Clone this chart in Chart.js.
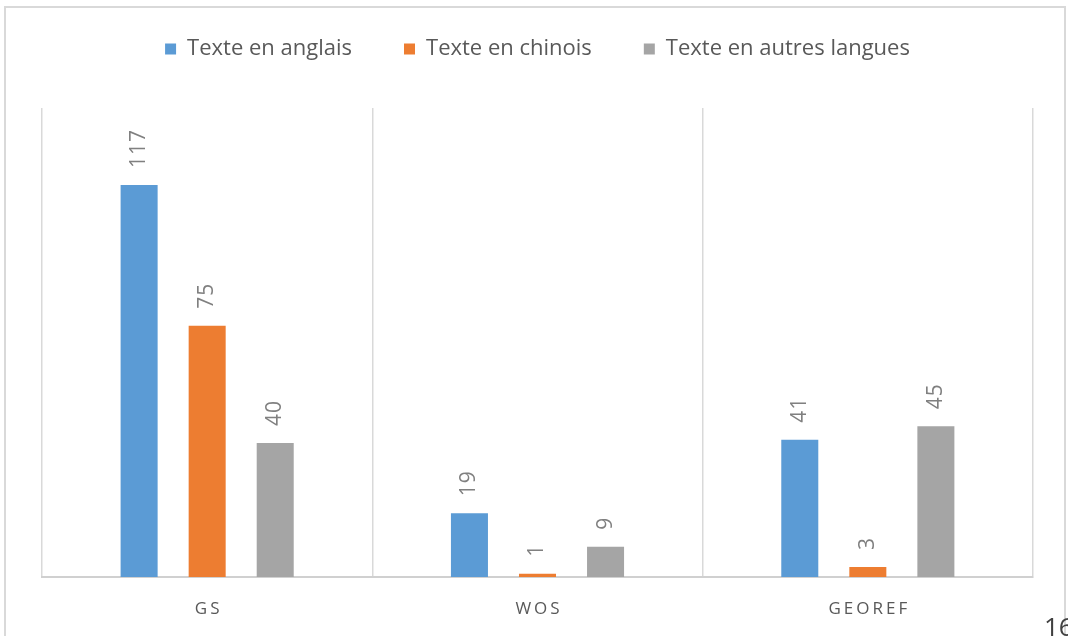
<!DOCTYPE html>
<html>
<head>
  <meta charset="UTF-8" />
  <title>Textes par base de données</title>
  <script src="https://cdn.jsdelivr.net/npm/chart.js@4"></script>
  <style>
    *{box-sizing:border-box}
    html,body{margin:0;width:1068px;height:636px;overflow:hidden;background:#fff;font-family:'Open Sans',sans-serif;}
    .wrap{position:absolute;left:0;top:0;width:1068px;height:636px;}
    .frame{position:absolute;left:4px;top:6px;width:1062px;height:700px;border:2px solid #d9d9d9;pointer-events:none;}
    .page{position:absolute;left:1044px;top:608px;font-size:26px;color:#404040;}
  </style>
</head>
<body>
  <div class="frame"></div>
  <div class="wrap"><canvas id="chart"></canvas></div>
  <div class="page">16</div>
  <script>
    // données
    const categories = ["GS", "WOS", "GEOREF"];
    const seriesNames = ["Texte en anglais", "Texte en chinois", "Texte en autres langues"];
    const anglais = [117, 19, 41];
    const chinois = [75, 1, 3];
    const autres = [40, 9, 45];
    const colors = ["#5b9bd5", "#ed7d31", "#a5a5a5"];
    const yMax = 140;

    /* étiquettes de valeur, tournées à -90° au-dessus des barres */
    const valueLabels = {
      id: "valueLabels",
      afterDatasetsDraw(chart) {
        const ctx = chart.ctx;
        ctx.save();
        ctx.font = '21px "Open Sans"';
        ctx.fillStyle = "#808080";
        ctx.letterSpacing = "1px";
        ctx.textAlign = "left";
        ctx.textBaseline = "middle";
        chart.data.datasets.forEach((ds, i) => {
          chart.getDatasetMeta(i).data.forEach((bar, j) => {
            ctx.save();
            ctx.translate(bar.x, bar.y - 17);
            ctx.rotate(-Math.PI / 2);
            ctx.fillText(String(ds.data[j]), 0, 0);
            ctx.restore();
          });
        });
        ctx.restore();
      }
    };

    /* libellés des catégories, espacés comme dans l'original */
    const categoryLabels = {
      id: "categoryLabels",
      afterDraw(chart) {
        const ctx = chart.ctx;
        const xs = chart.scales.x;
        ctx.save();
        ctx.font = '17px "Open Sans"';
        ctx.fillStyle = "#595959";
        ctx.letterSpacing = "3px";
        ctx.textAlign = "center";
        ctx.textBaseline = "middle";
        categories.forEach((c, i) => {
          ctx.fillText(c, xs.getPixelForValue(i) + 1.5, xs.bottom + 32);
        });
        ctx.restore();
      }
    };

    const mkSet = (label, data, color) => ({
      label, data,
      backgroundColor: color,
      borderWidth: 0,
      categoryPercentage: 0.618,
      barPercentage: 0.544
    });

    new Chart(document.getElementById("chart"), {
      type: "bar",
      data: {
        labels: categories,
        datasets: [
          mkSet(seriesNames[0], anglais, colors[0]),
          mkSet(seriesNames[1], chinois, colors[1]),
          mkSet(seriesNames[2], autres, colors[2])
        ]
      },
      options: {
        responsive: true,
        maintainAspectRatio: false,
        animation: false,
        layout: { padding: { left: 42, right: 35, top: -14, bottom: 59 } },
        plugins: {
          tooltip: { enabled: false },
          legend: {
            position: "top",
            weight: 1000,
            labels: {
              boxWidth: 11,
              boxHeight: 11,
              padding: 52,
              color: "#595959",
              font: { family: "'Open Sans'", size: 22 }
            }
          },
          // espace vide entre la légende et la zone du graphique
          subtitle: {
            display: true,
            text: "",
            position: "top",
            weight: 500,
            font: { size: 1, lineHeight: 1 },
            padding: { top: 37, bottom: 0 }
          }
        },
        scales: {
          x: {
            grid: { display: true, offset: true, color: "#d9d9d9", lineWidth: 1.5, drawTicks: false },
            border: { color: "#d0d0d0", width: 2 },
            ticks: { display: false }
          },
          y: { display: false, min: 0, max: yMax }
        }
      },
      plugins: [valueLabels, categoryLabels]
    });
  </script>
</body>
</html>
